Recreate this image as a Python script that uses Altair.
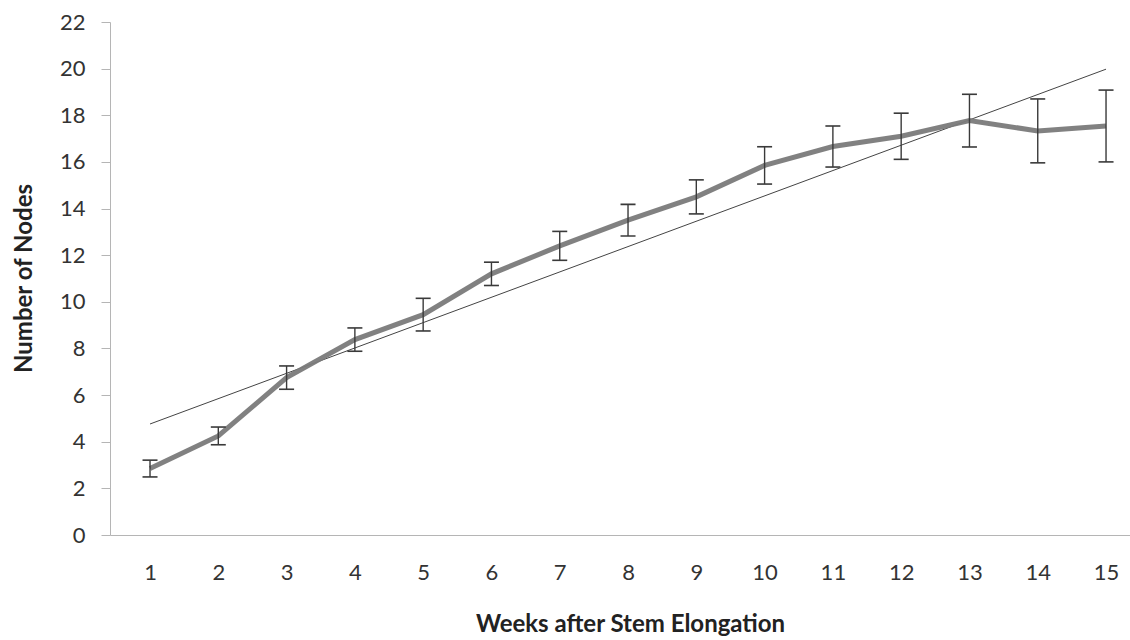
import altair as alt
import pandas as pd

weeks = [1, 2, 3, 4, 5, 6, 7, 8, 9, 10, 11, 12, 13, 14, 15]
mean_nodes = [2.85, 4.25, 6.75, 8.38, 9.45, 11.2, 12.4, 13.5, 14.5, 15.85, 16.66, 17.1, 17.77, 17.33, 17.54]
err_nodes = [0.36, 0.38, 0.5, 0.5, 0.7, 0.5, 0.62, 0.68, 0.73, 0.8, 0.88, 0.99, 1.13, 1.37, 1.54]
y_ticks = [0, 2, 4, 6, 8, 10, 12, 14, 16, 18, 20, 22]

df = pd.DataFrame({"week": weeks, "mean": mean_nodes, "err": err_nodes})

FONT = "Lato"

xscale = alt.Scale(domain=[0.414, 15.351], nice=False, zero=False)
yscale = alt.Scale(domain=[0, 22], nice=False)

xaxis = alt.Axis(
    title="Weeks after Stem Elongation",
    values=weeks,
    format="d",
    grid=False,
    ticks=False,
    labelPadding=27,
    labelFontSize=22,
    labelColor="#333333",
    labelFont=FONT,
    domainColor="#b5b5b5",
    titleFont=FONT,
    titleFontSize=24,
    titleFontWeight="bold",
    titleColor="#222222",
    titleX=520,
    titleY=89,
    titleBaseline="middle",
    titleAlign="center",
)
yaxis = alt.Axis(
    title="Number of Nodes",
    values=y_ticks,
    format="d",
    grid=False,
    tickSize=9,
    tickColor="#b5b5b5",
    labelPadding=16,
    labelFontSize=22,
    labelColor="#333333",
    labelFont=FONT,
    domainColor="#b5b5b5",
    titleFont=FONT,
    titleFontSize=24,
    titleFontWeight="bold",
    titleColor="#222222",
    titleX=-86,
    titleY=256,
    titleBaseline="middle",
    titleAlign="center",
    titleAngle=270,
)

base = alt.Chart(df)

trend = base.transform_regression("week", "mean").mark_line(
    color="#444444", strokeWidth=1
).encode(
    x=alt.X("week:Q", scale=xscale, axis=xaxis),
    y=alt.Y("mean:Q", scale=yscale, axis=yaxis),
)

line = base.mark_line(color="#7a7a7a", strokeWidth=5, opacity=0.95).encode(
    x=alt.X("week:Q", scale=xscale),
    y=alt.Y("mean:Q", scale=yscale),
)

bars_data = base.transform_calculate(
    lo="datum.mean - datum.err", hi="datum.mean + datum.err"
)

rules = bars_data.mark_rule(color="#3a3a3a", strokeWidth=1.4).encode(
    x=alt.X("week:Q", scale=xscale),
    y=alt.Y("lo:Q", scale=yscale),
    y2="hi:Q",
)

cap_lo = bars_data.mark_tick(orient="horizontal", size=15, thickness=1.6, color="#3a3a3a", opacity=1).encode(
    x=alt.X("week:Q", scale=xscale),
    y=alt.Y("lo:Q", scale=yscale),
)
cap_hi = bars_data.mark_tick(orient="horizontal", size=15, thickness=1.6, color="#3a3a3a", opacity=1).encode(
    x=alt.X("week:Q", scale=xscale),
    y=alt.Y("hi:Q", scale=yscale),
)

chart = alt.layer(trend, line, rules, cap_lo, cap_hi).properties(
    width=1020,
    height=513,
    autosize=alt.AutoSizeParams(type="none"),
    padding={"left": 110, "top": 22, "right": 0, "bottom": 105},
    background="white",
).configure_view(stroke=None)

chart.save("out.html", embed_options={"renderer": "svg", "actions": False})
